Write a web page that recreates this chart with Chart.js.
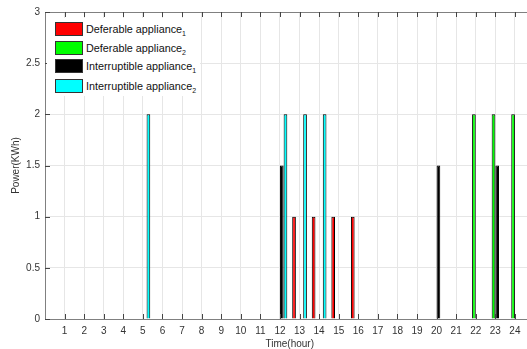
<!DOCTYPE html>
<html>
<head>
<meta charset="utf-8">
<script src="https://cdn.jsdelivr.net/npm/chart.js@4/dist/chart.umd.min.js"></script>
<style>
  html, body { margin: 0; padding: 0; background: #fff; overflow: hidden; width: 527px; height: 349px; }
  #wrap { position: relative; width: 560px; height: 349px; }
  #c { position: absolute; left: 0; top: 0; }
  #legend { position: absolute; left: 47px; top: 18px; width: 153px; height: 78px; background: #fff;
            font-family: "Liberation Sans", Arial, sans-serif; font-size: 10.8px; color: #111; }
  .row { position: absolute; left: 0; height: 14px; }
  .sw { position: absolute; left: 8px; top: 0; width: 26px; height: 12px; border: 1px solid #333; }
  .lab { position: absolute; left: 39px; top: 0; line-height: 14px; white-space: nowrap; }
  .lab sub { font-size: 7px; vertical-align: -3px; line-height: 0; }
</style>
</head>
<body>
<div id="wrap">
  <canvas id="c" width="560" height="349"></canvas>
  <div id="legend"></div>
</div>
<script>
// ---- data ----
const hours = [1,2,3,4,5,6,7,8,9,10,11,12,13,14,15,16,17,18,19,20,21,22,23,24];
const deferable1     = [0,0,0,0,0,0,0,0,0,0,0,0,1,1,1,1,0,0,0,0,0,0,0,0];
const deferable2     = [0,0,0,0,0,0,0,0,0,0,0,0,0,0,0,0,0,0,0,0,0,2,2,2];
const interruptible1 = [0,0,0,0,0,0,0,0,0,0,0,1.5,0,0,0,0,0,0,0,1.5,0,0,1.5,0];
const interruptible2 = [0,0,0,0,2,0,0,0,0,0,0,2,2,2,0,0,0,0,0,0,0,0,0,0];
const seriesNames = ['Deferable appliance', 'Deferable appliance', 'Interruptible appliance', 'Interruptible appliance'];
const seriesSubs = ['1', '2', '1', '2'];
const seriesColors = ['#ff0000', '#00ff00', '#000000', '#00ffff'];
const yTicks = [0, 0.5, 1, 1.5, 2, 2.5, 3];
const xTitle = 'Time(hour)';
const yTitle = 'Power(KWh)';

// axis spans 0..25 (MATLAB auto limits); pad categories at both ends
const labels = [0].concat(hours, [25]);
function pad(arr) { return [null].concat(arr.map(v => v === 0 ? null : v), [null]); }
const allSeries = [deferable1, deferable2, interruptible1, interruptible2];

const datasets = allSeries.map((s, i) => ({
  label: seriesNames[i] + seriesSubs[i],
  data: pad(s),
  backgroundColor: seriesColors[i],
  borderColor: '#000',
  borderWidth: 1,
  borderSkipped: 'start',
  categoryPercentage: 0.75,
  barPercentage: 1.0
}));

// legend (HTML, real text)
const lg = document.getElementById('legend');
const rowTops = [4, 22.7, 41.3, 61];
seriesNames.forEach((n, i) => {
  const r = document.createElement('div');
  r.className = 'row';
  r.style.top = rowTops[i] + 'px';
  r.innerHTML = '<div class="sw" style="background:' + seriesColors[i] + '"></div>' +
                '<div class="lab">' + n + '<sub>' + seriesSubs[i] + '</sub></div>';
  lg.appendChild(r);
});

const FONT = "'Liberation Sans', Arial, sans-serif";
const AXIS = '#808080';

const frame = {
  id: 'frame',
  afterDraw(chart) {
    const { ctx, chartArea: a, scales: { x, y } } = chart;
    ctx.save();
    ctx.strokeStyle = AXIS;
    ctx.lineWidth = 1;
    ctx.beginPath();
    ctx.moveTo(a.left, a.top + 0.5);
    ctx.lineTo(a.right, a.top + 0.5);
    ctx.stroke();
    ctx.strokeStyle = '#444';
    ctx.beginPath();
    hours.forEach((h, i) => {
      const px = Math.round(x.getPixelForValue(i + 1)) + 0.5;
      ctx.moveTo(px, a.bottom); ctx.lineTo(px, a.bottom - 5);
      ctx.moveTo(px, a.top); ctx.lineTo(px, a.top + 5);
    });
    yTicks.forEach(v => {
      const py = Math.round(y.getPixelForValue(v)) + 0.5;
      ctx.moveTo(a.left, py); ctx.lineTo(a.left + 5, py);
    });
    ctx.stroke();
    ctx.restore();
  }
};

new Chart(document.getElementById('c'), {
  type: 'bar',
  data: { labels, datasets },
  plugins: [frame],
  options: {
    responsive: false,
    animation: false,
    devicePixelRatio: 1,
    layout: { padding: { left: 0, right: 25.5, top: 12, bottom: 0 } },
    plugins: { legend: { display: false }, tooltip: { enabled: false } },
    scales: {
      x: {
        type: 'category',
        offset: false,
        grid: { offset: false, color: '#e6e6e6', lineWidth: 1, drawTicks: false },
        border: { color: AXIS, width: 1 },
        ticks: {
          autoSkip: false, maxRotation: 0, padding: 6, color: '#333',
          font: { family: FONT, size: 10 },
          callback: function(v, i) { const l = labels[i]; return (l === 0 || l === 25) ? '' : String(l); }
        },
        title: { display: true, text: xTitle, color: '#333', font: { family: FONT, size: 10, lineHeight: 1.0 }, padding: { top: 0, bottom: 0 } },
        afterFit(s) { s.height = 30; }
      },
      y: {
        min: 0, max: 3,
        grid: { color: '#e6e6e6', lineWidth: 1, drawTicks: false },
        border: { color: AXIS, width: 1 },
        afterBuildTicks(s) { s.ticks = yTicks.map(v => ({ value: v })); },
        ticks: { padding: 5, color: '#333', font: { family: FONT, size: 10 }, callback: v => String(v) },
        title: { display: true, text: yTitle, color: '#333', font: { family: FONT, size: 10, lineHeight: 1.2 }, padding: { top: 10.5, bottom: 0 } },
        afterFit(s) { s.width = 45; }
      }
    }
  }
});
</script>
</body>
</html>
